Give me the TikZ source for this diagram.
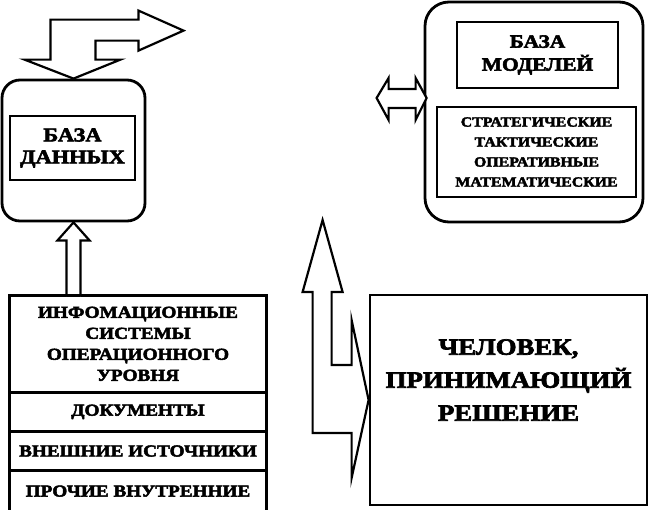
\documentclass[tikz,border=0pt]{standalone}
\usepackage{fontspec}
\setmainfont{Liberation Serif}[FakeStretch=1.15,BoldFeatures={FakeBold=3}]
\usepackage{tikz}
\usetikzlibrary{arrows.meta,positioning,calc}
\tikzset{
  roundbox/.style={draw,rounded corners=18pt,line width=2.8pt,inner sep=0pt},
  plainbox/.style={draw,line width=2pt,inner sep=0pt,align=center,font=\bfseries\fontsize{16.7}{21}\selectfont},
  cellbox/.style={plainbox,line width=1.6pt,minimum width=256pt,anchor=north},
  blockarrow/.style={draw,line width=2.2pt,line join=miter,fill=white}
}

\begin{document}
\begin{tikzpicture}[x=1pt,y=-1pt]
  \useasboundingbox (0,0) rectangle (650,509);
  % database
  \node[roundbox,minimum width=143pt,minimum height=141pt] (db) at (73.5,150.5) {};
  \node[plainbox,minimum width=125pt,minimum height=64pt,font=\bfseries\fontsize{19.5}{22}\selectfont] (dbname) at (72.5,148) {БАЗА\\ДАННЫХ};
  % model base
  \node[roundbox,rounded corners=24pt,minimum width=218pt,minimum height=220pt] (mb) at (534,112) {};
  \node[plainbox,minimum width=161pt,minimum height=66pt,font=\bfseries\fontsize{18.6}{23}\selectfont] (mbname) at (537.5,55) {БАЗА\\МОДЕЛЕЙ};
  \node[plainbox,minimum width=199pt,minimum height=90pt,font=\bfseries\fontsize{13.8}{20}\selectfont] (mblist) at (536.5,152)
    {СТРАТЕГИЧЕСКИЕ\\ТАКТИЧЕСКИЕ\\ОПЕРАТИВНЫЕ\\МАТЕМАТИЧЕСКИЕ};
  % sources
  \node[cellbox,minimum height=96pt] (info) at (138,295) {ИНФОМАЦИОННЫЕ\\СИСТЕМЫ\\ОПЕРАЦИОННОГО\\УРОВНЯ};
  \node[cellbox,minimum height=37pt,below=0pt of info] (docs) {ДОКУМЕНТЫ};
  \node[cellbox,minimum height=38pt,below=0pt of docs] (ext) {ВНЕШНИЕ ИСТОЧНИКИ};
  \node[cellbox,minimum height=39pt,below=0pt of ext] (other) {ПРОЧИЕ ВНУТРЕННИЕ};
  \draw[line width=2.8pt] (info.north west) rectangle (other.south east);
  % decision maker
  \node[draw,line width=2.8pt,minimum width=277pt,minimum height=210pt] (dm) at (508.5,400) {};
  \node[align=center,font=\bfseries\fontsize{23.3}{33}\selectfont] (dmtext) at ([yshift=20pt]dm.center)
    {ЧЕЛОВЕК,\\ПРИНИМАЮЩИЙ\\РЕШЕНИЕ};
  % block arrows
  \draw[blockarrow] (db.north) -- ++(-49,-19) -- ++(26,0) -- ++(0,-40) -- ++(88,0) -- ++(0,-9)
    -- ++(45,20) -- ++(-45,20) -- ++(0,-10) -- ++(-43,0) -- ++(0,19) -- ++(25,0) -- cycle;
  \draw[blockarrow] (db.south) -- ++(16,18) -- ++(-9,0) -- ++(0,56) ++(-14,0) -- ++(0,-56)
    -- ++(-9,0) -- (db.south);
  \draw[blockarrow] ([shift={(3,-14)}]mb.west) -- ++(-11,-20) -- ++(0,11) -- ++(-27,0) -- ++(0,-11)
    -- ++(-12,20) -- ++(12,22) -- ++(0,-12) -- ++(27,0) -- ++(0,12) -- cycle;
  \draw[blockarrow] (dm.west) -- ++(-17,78) -- ++(0,-45) -- ++(-39,0) -- ++(0,-141) -- ++(-10,0)
    -- ++(20,-72) -- ++(20,72) -- ++(-11,0) -- ++(0,73) -- ++(20,0) -- ++(0,-45) -- cycle;
\end{tikzpicture}
\end{document}
